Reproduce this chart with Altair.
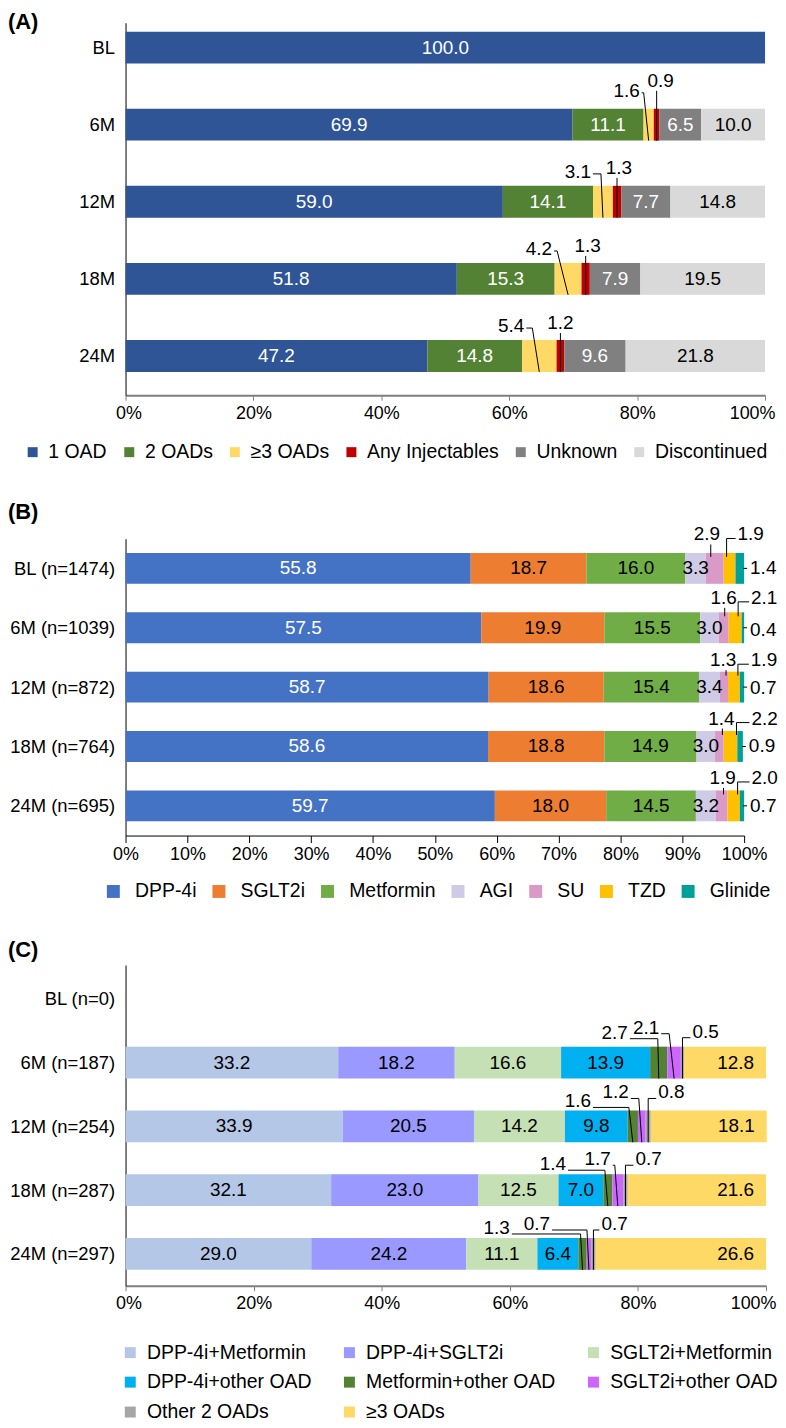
import json
import altair as alt
import pandas as pd

FONT = "Liberation Sans"

# ---------------- Panel A ----------------
a_periods = ["BL", "6M", "12M", "18M", "24M"]
a_series = ["1 OAD", "2 OADs", "≥3 OADs", "Any Injectables", "Unknown", "Discontinued"]
a_one_oad = [100.0, 69.9, 59.0, 51.8, 47.2]
a_two_oads = [0.0, 11.1, 14.1, 15.3, 14.8]
a_three_oads = [0.0, 1.6, 3.1, 4.2, 5.4]
a_injectables = [0.0, 0.9, 1.3, 1.3, 1.2]
a_unknown = [0.0, 6.5, 7.7, 7.9, 9.6]
a_discontinued = [0.0, 10.0, 14.8, 19.5, 21.8]
a_colors = ["#2F5597", "#548235", "#FFD966", "#C00000", "#808080", "#D9D9D9"]

# ---------------- Panel B ----------------
b_periods = ["BL (n=1474)", "6M (n=1039)", "12M (n=872)", "18M (n=764)", "24M (n=695)"]
b_series = ["DPP-4i", "SGLT2i", "Metformin", "AGI", "SU", "TZD", "Glinide"]
b_dpp4i = [55.8, 57.5, 58.7, 58.6, 59.7]
b_sglt2i = [18.7, 19.9, 18.6, 18.8, 18.0]
b_metformin = [16.0, 15.5, 15.4, 14.9, 14.5]
b_agi = [3.3, 3.0, 3.4, 3.0, 3.2]
b_su = [2.9, 1.6, 1.3, 1.4, 1.9]
b_tzd = [1.9, 2.1, 1.9, 2.2, 2.0]
b_glinide = [1.4, 0.4, 0.7, 0.9, 0.7]
b_colors = ["#4472C4", "#ED7D31", "#70AD47", "#CFCBE6", "#DA9AC8", "#FFC000", "#00A09A"]

# ---------------- Panel C ----------------
c_periods = ["BL (n=0)", "6M (n=187)", "12M (n=254)", "18M (n=287)", "24M (n=297)"]
c_series = ["DPP-4i+Metformin", "DPP-4i+SGLT2i", "SGLT2i+Metformin", "DPP-4i+other OAD",
            "Metformin+other OAD", "SGLT2i+other OAD", "Other 2 OADs", "≥3 OADs"]
c_dpp4i_met = [None, 33.2, 33.9, 32.1, 29.0]
c_dpp4i_sglt2i = [None, 18.2, 20.5, 23.0, 24.2]
c_sglt2i_met = [None, 16.6, 14.2, 12.5, 11.1]
c_dpp4i_other = [None, 13.9, 9.8, 7.0, 6.4]
c_met_other = [None, 2.7, 1.6, 1.4, 1.3]
c_sglt2i_other = [None, 2.1, 1.2, 1.7, 0.7]
c_other_two = [None, 0.5, 0.8, 0.7, 0.7]
c_three_plus = [None, 12.8, 18.1, 21.6, 26.6]
c_colors = ["#B4C7E7", "#9999FF", "#C5E0B4", "#00B0F0", "#548235", "#CC66FF", "#A6A6A6", "#FFD966"]

LABEL_SIZE = 19


def make_segments(periods, series, columns):
    rows = []
    for i, p in enumerate(periods):
        start = 0.0
        for k, name in enumerate(series):
            v = columns[k][i]
            if v is None or v <= 0:
                continue
            rows.append({"period": p, "idx": i, "series": name, "value": v,
                         "start": start, "end": start + v, "mid": start + v / 2.0,
                         "label": f"{v:.1f}"})
            start += v
    return pd.DataFrame(rows)


def build_panel(title, periods, series, columns, colors, geo, white, inside,
                inside_end, callouts, legend, xstyle):
    W, H, lo, hi = geo["w"], geo["h"], geo["lo"], geo["hi"]
    step = H / (hi - lo)
    xpp = 100.0 / W
    ypp = 1.0 / step
    seg = make_segments(periods, series, columns)
    half = geo["half"] * ypp
    seg["y0"] = seg["idx"] - half
    seg["y1"] = seg["idx"] + half

    xscale = alt.Scale(domain=[0, 100], nice=False, zero=True)
    yscale = alt.Scale(domain=[lo, hi], reverse=True, nice=False, zero=False)
    xkw = dict(values=list(range(0, 101, xstyle["step"])), labelExpr="datum.value + '%'",
               title=None, grid=False, domainColor=xstyle["dcolor"], domainWidth=xstyle["dwidth"],
               tickColor=xstyle["dcolor"], tickSize=xstyle["tick"], tickWidth=1,
               labelFontSize=18, labelColor="black", labelPadding=xstyle["lpad"],
               labelOverlap=False, labelFont=FONT, labelFlush=xstyle["flush"])
    if xstyle["flush"]:
        xkw["labelFlushOffset"] = xstyle["flushoff"]
    xaxis = alt.Axis(**xkw)
    yaxis = alt.Axis(values=list(range(len(periods))),
                     labelExpr=json.dumps(periods) + "[datum.value]",
                     title=None, grid=False, ticks=False, domainColor="black", domainWidth=1,
                     labelFontSize=18.5, labelColor="black", labelPadding=11,
                     labelOverlap=False, labelFont=FONT)

    layers = []
    layers.append(
        alt.Chart(seg).mark_rect().encode(
            x=alt.X("start:Q", scale=xscale, axis=xaxis),
            x2="end:Q",
            y=alt.Y("y0:Q", scale=yscale, axis=yaxis),
            y2="y1:Q",
            color=alt.Color("series:N", scale=alt.Scale(domain=series, range=colors),
                            legend=legend),
        )
    )

    ins = seg[seg["series"].isin(inside)].copy()
    ins["x"] = ins["mid"]
    ins["y"] = ins["idx"].astype(float)
    ins["align"] = "center"
    if inside_end is not None:
        m = ins["series"] == inside_end
        ins.loc[m, "x"] = ins.loc[m, "end"] - 12 * xpp
        ins.loc[m, "align"] = "right"
    ins["white"] = ins["series"].isin(white)
    for align in ["center", "right"]:
        for is_white in [True, False]:
            sub = ins[(ins["align"] == align) & (ins["white"] == is_white)]
            if len(sub) == 0:
                continue
            layers.append(
                alt.Chart(sub).mark_text(align=align, baseline="middle", fontSize=LABEL_SIZE,
                                         font=FONT, color="white" if is_white else "black")
                .encode(x=alt.X("x:Q", scale=xscale, axis=xaxis),
                        y=alt.Y("y:Q", scale=yscale, axis=yaxis),
                        text="label:N")
            )

    texts, hsegs, lines = [], [], []
    for (p, s, kind, ldx, rz, hdx) in callouts:
        r = seg[(seg["period"] == p) & (seg["series"] == s)].iloc[0]
        i, mid, end = float(r["idx"]), r["mid"], r["end"]
        ty = i - rz * ypp
        hy = i - (rz - geo["hook_drop"]) * ypp
        ey = i + geo["line_end"] * ypp
        if kind == "left":
            tx = mid + ldx * xpp
            texts.append(dict(x=tx, y=ty, label=r["label"], align="right"))
            hsegs.append(dict(x=tx + 2 * xpp, x2=mid + hdx * xpp, y=hy))
            lines.append(dict(x=mid + hdx * xpp, x2=mid, y=hy, y2=ey))
        elif kind == "right":
            tx = mid + ldx * xpp
            texts.append(dict(x=tx, y=ty, label=r["label"], align="left"))
            hsegs.append(dict(x=tx - 2 * xpp, x2=mid + hdx * xpp, y=hy))
            lines.append(dict(x=mid + hdx * xpp, x2=mid + hdx * xpp, y=hy, y2=ey))
        elif kind == "center":
            tx = mid + ldx * xpp
            texts.append(dict(x=tx, y=ty, label=r["label"], align="center"))
            lines.append(dict(x=mid + hdx * xpp, x2=mid + hdx * xpp, y=ty + 10 * ypp, y2=ey))
        elif kind == "side":
            tx = end + ldx * xpp
            texts.append(dict(x=tx, y=ty, label=r["label"], align="left"))
            hsegs.append(dict(x=end - 1 * xpp, x2=tx - 3 * xpp, y=i))
    tdf = pd.DataFrame(texts)
    for align in ["left", "center", "right"]:
        sub = tdf[tdf["align"] == align]
        if len(sub) == 0:
            continue
        layers.append(
            alt.Chart(sub).mark_text(align=align, baseline="middle", fontSize=LABEL_SIZE,
                                     font=FONT, color="black")
            .encode(x=alt.X("x:Q", scale=xscale, axis=xaxis),
                    y=alt.Y("y:Q", scale=yscale, axis=yaxis),
                    text="label:N")
        )
    if hsegs:
        layers.append(
            alt.Chart(pd.DataFrame(hsegs)).mark_rule(color="black", strokeWidth=1)
            .encode(x=alt.X("x:Q", scale=xscale, axis=xaxis), x2="x2:Q",
                    y=alt.Y("y:Q", scale=yscale, axis=yaxis))
        )
    if lines:
        layers.append(
            alt.Chart(pd.DataFrame(lines)).mark_rule(color="black", strokeWidth=1)
            .encode(x=alt.X("x:Q", scale=xscale, axis=xaxis), x2="x2:Q",
                    y=alt.Y("y:Q", scale=yscale, axis=yaxis), y2="y2:Q")
        )

    return alt.layer(*layers).properties(
        width=W, height=H,
        title=alt.TitleParams(title, anchor="start", frame="group", dx=-118,
                              fontSize=22, fontWeight="bold", font=FONT, color="black",
                              offset=geo["toff"]),
    )


# callout layout: (row, series, kind, label dx px, label raise px, hook dx px)
a_callouts = [
    ("6M", "≥3 OADs", "left", -9, 34, -5),
    ("12M", "≥3 OADs", "left", -12, 30, -2),
    ("18M", "≥3 OADs", "left", -16, 30, -11),
    ("24M", "≥3 OADs", "left", -15, 30, -7),
    ("6M", "Any Injectables", "center", 4, 44, 0),
    ("12M", "Any Injectables", "center", 2, 34, 0),
    ("18M", "Any Injectables", "center", 2, 33, 0),
    ("24M", "Any Injectables", "center", 0, 33, 0),
]
b_callouts = [
    ("BL (n=1474)", "SU", "center", -8, 34, -4),
    ("6M (n=1039)", "SU", "center", 0, 30, 1),
    ("12M (n=872)", "SU", "center", -1, 27, 2),
    ("18M (n=764)", "SU", "center", 2, 28, 3),
    ("24M (n=695)", "SU", "center", 1, 28, 2),
    ("BL (n=1474)", "TZD", "right", 8, 34, -3),
    ("6M (n=1039)", "TZD", "right", 16, 30, 3),
    ("12M (n=872)", "TZD", "right", 17, 27, 4),
    ("18M (n=764)", "TZD", "right", 21, 28, 6),
    ("24M (n=695)", "TZD", "right", 18, 28, 4),
    ("BL (n=1474)", "Glinide", "side", 6, 0, 0),
    ("6M (n=1039)", "Glinide", "side", 6, -2, 0),
    ("12M (n=872)", "Glinide", "side", 6, -1, 0),
    ("18M (n=764)", "Glinide", "side", 6, 0, 0),
    ("24M (n=695)", "Glinide", "side", 6, 0, 0),
]
c_callouts = [
    ("6M (n=187)", "Metformin+other OAD", "left", -31, 30, -1),
    ("6M (n=187)", "SGLT2i+other OAD", "left", -15, 35, -5),
    ("6M (n=187)", "Other 2 OADs", "right", 10, 31, 0),
    ("12M (n=254)", "Metformin+other OAD", "left", -42, 25, -4),
    ("12M (n=254)", "SGLT2i+other OAD", "left", -13, 34, -3),
    ("12M (n=254)", "Other 2 OADs", "right", 10, 34, 0),
    ("18M (n=287)", "Metformin+other OAD", "left", -42, 26, -3),
    ("18M (n=287)", "SGLT2i+other OAD", "left", -7, 31, -3),
    ("18M (n=287)", "Other 2 OADs", "right", 10, 31, 0),
    ("24M (n=297)", "Metformin+other OAD", "left", -73, 26, -2),
    ("24M (n=297)", "SGLT2i+other OAD", "left", -39, 30, -2),
    ("24M (n=297)", "Other 2 OADs", "right", 8, 30, 0),
]

legend_a = alt.Legend(title=None, orient="none", legendX=-103, legendY=421, direction="horizontal",
                      symbolType="square", symbolSize=100, symbolStrokeWidth=0,
                      labelFontSize=19.5, labelFont=FONT, labelColor="black", labelOffset=6,
                      columnPadding=12, labelLimit=400, padding=0)
legend_b = alt.Legend(title=None, orient="none", legendX=-22, legendY=344, direction="horizontal",
                      symbolType="square", symbolSize=169, symbolStrokeWidth=0,
                      labelFontSize=19.5, labelFont=FONT, labelColor="black", labelOffset=12,
                      columnPadding=12, labelLimit=400, padding=0)
legend_c = alt.Legend(title=None, orient="none", legendX=-5, legendY=379, direction="horizontal",
                      columns=3, symbolType="square", symbolSize=121, symbolStrokeWidth=0,
                      labelFontSize=19.5, labelFont=FONT, labelColor="black", labelOffset=7,
                      columnPadding=28, rowPadding=9, labelLimit=400, padding=0)

pa = build_panel(
    "(A)", a_periods, a_series,
    [a_one_oad, a_two_oads, a_three_oads, a_injectables, a_unknown, a_discontinued], a_colors,
    dict(w=642, h=374, lo=-0.323, hi=4.51, half=16, hook_drop=2, line_end=16, toff=-11),
    white=["1 OAD", "2 OADs", "Unknown"],
    inside=["1 OAD", "2 OADs", "Unknown", "Discontinued"], inside_end=None,
    callouts=a_callouts, legend=legend_a,
    xstyle=dict(step=20, dcolor="#7F7F7F", dwidth=2, tick=5, lpad=4, flush=True, flushoff=10),
)
pb = build_panel(
    "(B)", b_periods, b_series,
    [b_dpp4i, b_sglt2i, b_metformin, b_agi, b_su, b_tzd, b_glinide], b_colors,
    dict(w=621, h=298, lo=-0.5, hi=4.5, half=15.5, hook_drop=4, line_end=-11.5, toff=2),
    white=["DPP-4i"],
    inside=["DPP-4i", "SGLT2i", "Metformin", "AGI"], inside_end=None,
    callouts=b_callouts, legend=legend_b,
    xstyle=dict(step=10, dcolor="black", dwidth=1, tick=7, lpad=3, flush=False, flushoff=0),
)
pc = build_panel(
    "(C)", c_periods, c_series,
    [c_dpp4i_met, c_dpp4i_sglt2i, c_sglt2i_met, c_dpp4i_other, c_met_other,
     c_sglt2i_other, c_other_two, c_three_plus], c_colors,
    dict(w=643, h=322, lo=-0.53, hi=4.5, half=16, hook_drop=6, line_end=16, toff=3),
    white=[],
    inside=["DPP-4i+Metformin", "DPP-4i+SGLT2i", "SGLT2i+Metformin", "DPP-4i+other OAD", "≥3 OADs"],
    inside_end="≥3 OADs",
    callouts=c_callouts, legend=legend_c,
    xstyle=dict(step=20, dcolor="#7F7F7F", dwidth=2, tick=5, lpad=4, flush=True, flushoff=10),
)

chart = (
    alt.vconcat(pa, pb, pc, spacing=38)
    .resolve_scale(color="independent")
    .properties(padding={"left": 0, "top": 0, "right": 0, "bottom": 0})
    .configure(font=FONT)
    .configure_view(stroke=None)
)

chart.save("out.html", embed_options={"renderer": "svg", "actions": False})
